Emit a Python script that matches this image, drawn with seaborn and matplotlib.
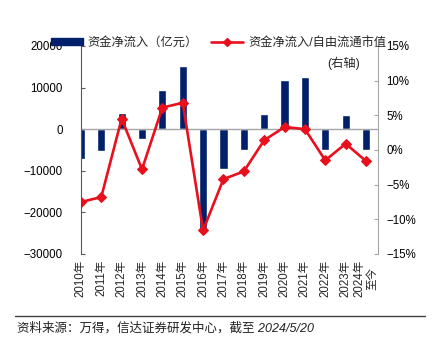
import matplotlib
matplotlib.use('Agg')
import matplotlib.pyplot as plt
from matplotlib.ticker import FuncFormatter
from matplotlib.patches import Patch
from matplotlib.lines import Line2D
import seaborn as sns
import numpy as np

sns.set_style('white')
plt.rcParams['font.family'] = ['Liberation Sans', 'Noto Sans CJK SC', 'DejaVu Sans']

# 数据
years = ['2010年', '2011年', '2012年', '2013年', '2014年', '2015年', '2016年', '2017年',
         '2018年', '2019年', '2020年', '2021年', '2022年', '2023年', '2024年\n至今']
flow = [-7200, -5300, 3900, -2400, 9400, 15200, -23900, -9700,
        -5100, 3600, 11800, 12500, -5100, 3400, -5100]          # 亿元
ratio = [-7.5, -6.8, 4.5, -2.8, 6.1, 6.8, -11.6, -4.2,
         -3.1, 1.4, 3.3, 3.0, -1.5, 0.9, -1.6]                   # %

navy = '#00206B'
red = '#E8101C'

fig = plt.figure(figsize=(4.35, 3.53), dpi=100)
ax = fig.add_axes([0.186, 0.2805, 0.683, 0.5895])

sns.barplot(x=years, y=flow, ax=ax, color=navy, width=0.4, saturation=1)
ax.set_xlim(0, 14.59)
ax.set_ylim(-30000, 20000)
ax.set_yticks(range(-30000, 20001, 10000))
ax.axhline(0, color='#A6A6A6', lw=1, zorder=1)

ax2 = ax.twinx()
sns.lineplot(x=np.arange(len(years)), y=ratio, ax=ax2, color=red, lw=1.9,
             marker='D', markersize=5.5, markeredgecolor=red)
ax2.set_ylim(-15, 15)
ax2.set_yticks(range(-15, 16, 5))
ax2.yaxis.set_major_formatter(FuncFormatter(lambda v, p: f'{v:.0f}%'.replace('-', '\u2212')))
ax2.set_xlim(0, 14.59)

for a in (ax, ax2):
    a.set_xlabel('')
    a.set_ylabel('')
    a.spines['top'].set_visible(False)
    a.spines['bottom'].set_visible(False)
    a.tick_params(axis='y', direction='in', length=3, labelsize=8.3, colors='#000000')
ax.spines['right'].set_visible(False)
ax.spines['left'].set_color('#595959')
ax2.spines['left'].set_visible(False)
ax2.spines['right'].set_color('#A6A6A6')
ax.tick_params(axis='y', color='#595959', pad=13)
ax2.tick_params(axis='y', color='#A6A6A6', pad=6)

ax.set_xticks(range(len(years)))
ax.set_xticklabels(years, rotation=90, fontsize=8.3, va='top', ha='center')
ax.tick_params(axis='x', length=0, pad=4)

handles = [Patch(facecolor=navy, edgecolor=navy),
           Line2D([], [], color=red, lw=1.9, marker='D', markersize=4)]
labels = ['资金净流入（亿元）', '资金净流入/自由流通市值']
fig.legend(handles, labels, ncol=2, loc='upper left', bbox_to_anchor=(0.117, 0.895),
           frameon=False, fontsize=8.8, handlelength=2.6, handleheight=0.5,
           handletextpad=0.4, columnspacing=1.1, borderaxespad=0, borderpad=0)
fig.text(327 / 435, 1 - 63 / 353, '(右轴)', fontsize=8.8, va='center', ha='left')

fig.add_artist(Line2D([0.035, 0.977], [0.105, 0.105], color='#404040', lw=1))
fig.text(0.038, 0.071, '资料来源：万得，信达证券研发中心，截至 2024/5/20',
         fontsize=9, style='italic', color='#222222', va='center')

fig.savefig('out.png', dpi=100)
